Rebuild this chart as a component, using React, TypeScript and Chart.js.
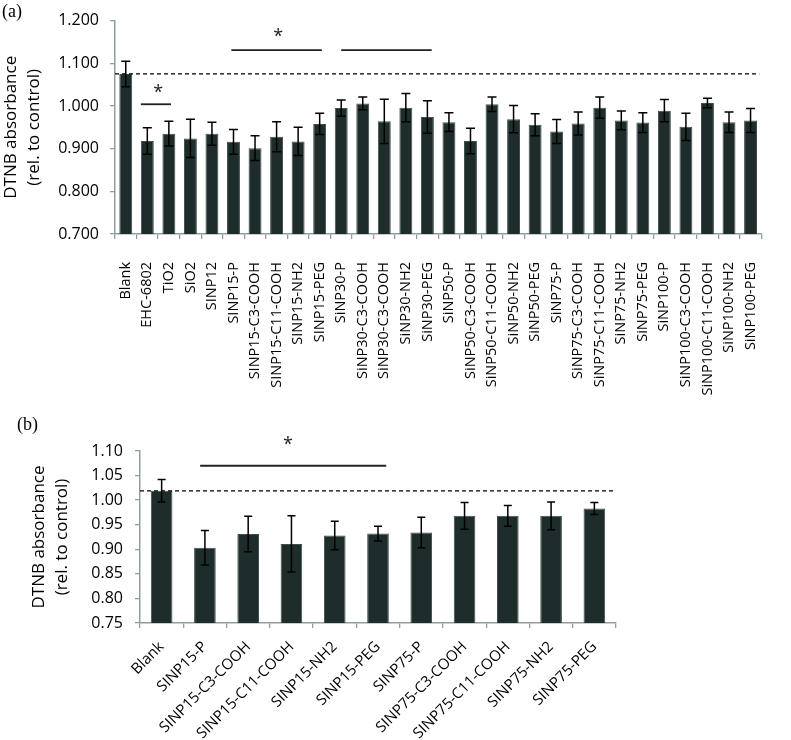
import React, { useEffect, useRef } from "react";
import { Chart, registerables } from "chart.js";

Chart.register(...registerables);

// ---------- Panel (a) data ----------
const labelsA = [
  "Blank", "EHC-6802", "TiO2", "SiO2", "SINP12",
  "SINP15-P", "SINP15-C3-COOH", "SINP15-C11-COOH", "SINP15-NH2", "SINP15-PEG",
  "SiNP30-P", "SiNP30-C3-COOH", "SiNP30-C3-COOH", "SiNP30-NH2", "SiNP30-PEG",
  "SiNP50-P", "SiNP50-C3-COOH", "SiNP50-C11-COOH", "SiNP50-NH2", "SiNP50-PEG",
  "SiNP75-P", "SiNP75-C3-COOH", "SiNP75-C11-COOH", "SiNP75-NH2", "SiNP75-PEG",
  "SiNP100-P", "SiNP100-C3-COOH", "SiNP100-C11-COOH", "SiNP100-NH2", "SiNP100-PEG",
];
const meansA = [
  1.075, 0.918, 0.935, 0.924, 0.935,
  0.916, 0.901, 0.928, 0.917, 0.958,
  0.995, 1.006, 0.964, 0.996, 0.974,
  0.962, 0.918, 1.004, 0.969, 0.956,
  0.940, 0.959, 0.996, 0.966, 0.961,
  0.989, 0.951, 1.007, 0.962, 0.966,
];
const errorsA = [
  0.030, 0.031, 0.029, 0.045, 0.027,
  0.029, 0.029, 0.035, 0.033, 0.025,
  0.019, 0.015, 0.052, 0.033, 0.038,
  0.022, 0.030, 0.017, 0.032, 0.026,
  0.028, 0.027, 0.025, 0.022, 0.023,
  0.026, 0.032, 0.011, 0.024, 0.028,
];
const yMinA = 0.7;
const yMaxA = 1.2;
const yStepA = 0.1;
const yDecimalsA = 3;
const controlA = 1.075;
const sigFromA = [0.7, 4.9, 10.0];
const sigToA = [2.1, 9.1, 14.2];
const sigLevelA = [1.004, 1.131, 1.131];
const starXA = [1.5, 7.08, -1];
const starLevelA = [1.038, 1.168, 0];

// ---------- Panel (b) data ----------
const labelsB = [
  "Blank", "SINP15-P", "SINP15-C3-COOH", "SINP15-C11-COOH", "SINP15-NH2", "SINP15-PEG",
  "SINP75-P", "SINP75-C3-COOH", "SINP75-C11-COOH", "SINP75-NH2", "SINP75-PEG",
];
const meansB = [1.019, 0.903, 0.931, 0.911, 0.928, 0.932, 0.934, 0.968, 0.968, 0.968, 0.983];
const errorsB = [0.023, 0.035, 0.036, 0.057, 0.029, 0.015, 0.031, 0.027, 0.021, 0.028, 0.012];
const yMinB = 0.75;
const yMaxB = 1.1;
const yStepB = 0.05;
const yDecimalsB = 2;
const controlB = 1.019;
const sigFromB = [0.89];
const sigToB = [5.19];
const sigLevelB = [1.07];
const starXB = [2.92];
const starLevelB = [1.118];

const FONT = "'Open Sans', 'DejaVu Sans', sans-serif";
const AXIS = "#8f9f9d";
const BAR = "#1e2d2b";
const BAR_EDGE = "#3d4e4c";

const annotPlugin = {
  id: "annot",
  afterDatasetsDraw(chart: any, _args: any, opts: any) {
    const { ctx, chartArea } = chart;
    const x = chart.scales.x;
    const y = chart.scales.y;
    const meta = chart.getDatasetMeta(0);
    ctx.save();
    // dashed control line
    const yc = y.getPixelForValue(opts.control);
    ctx.strokeStyle = "#000";
    ctx.lineWidth = 1.3;
    ctx.setLineDash([4, 3]);
    ctx.beginPath();
    ctx.moveTo(chartArea.left, yc);
    ctx.lineTo(chartArea.right - 2, yc);
    ctx.stroke();
    ctx.setLineDash([]);
    // error bars
    ctx.lineWidth = 1.5;
    ctx.strokeStyle = "#000";
    opts.means.forEach((m: number, i: number) => {
      const e = opts.errors[i];
      const px = meta.data[i].x;
      const yt = y.getPixelForValue(m + e);
      const yb = y.getPixelForValue(m - e);
      ctx.beginPath();
      ctx.moveTo(px, yt);
      ctx.lineTo(px, yb);
      ctx.moveTo(px - opts.cap, yt);
      ctx.lineTo(px + opts.cap, yt);
      ctx.moveTo(px - opts.cap, yb);
      ctx.lineTo(px + opts.cap, yb);
      ctx.stroke();
    });
    // significance lines
    ctx.strokeStyle = "#222";
    ctx.lineWidth = 1.8;
    opts.sigFrom.forEach((f: number, i: number) => {
      const yy = y.getPixelForValue(opts.sigLevel[i]);
      ctx.beginPath();
      ctx.moveTo(x.getPixelForValue(f), yy);
      ctx.lineTo(x.getPixelForValue(opts.sigTo[i]), yy);
      ctx.stroke();
    });
    ctx.fillStyle = "#222";
    ctx.font = `18px ${FONT}`;
    ctx.textAlign = "center";
    ctx.textBaseline = "middle";
    opts.starX.forEach((sx: number, i: number) => {
      if (sx < 0) return;
      ctx.fillText("*", x.getPixelForValue(sx), y.getPixelForValue(opts.starLevel[i]) + 3);
    });
    ctx.restore();
  },
};

function makeConfig(p: any) {
  return {
    type: "bar",
    data: {
      labels: p.labels,
      datasets: [
        {
          data: p.means,
          backgroundColor: BAR,
          borderColor: BAR_EDGE,
          borderWidth: 1,
          categoryPercentage: 1,
          barPercentage: p.barPct,
        },
      ],
    },
    options: {
      responsive: false,
      animation: false,
      layout: { padding: p.padding },
      plugins: {
        legend: { display: false },
        tooltip: { enabled: false },
        annot: {
          means: p.means,
          errors: p.errors,
          control: p.control,
          cap: p.cap,
          sigFrom: p.sigFrom,
          sigTo: p.sigTo,
          sigLevel: p.sigLevel,
          starX: p.starX,
          starLevel: p.starLevel,
        },
      },
      scales: {
        x: {
          grid: { drawOnChartArea: false, drawTicks: true, tickLength: 5, color: AXIS, lineWidth: 1.3, offset: true },
          border: { color: AXIS, width: 1.5 },
          ticks: {
            autoSkip: false,
            maxRotation: p.rotation,
            minRotation: p.rotation,
            padding: p.xPad,
            color: "#000",
            font: { family: FONT, size: p.xFont },
          },
          afterFit: (s: any) => {
            s.height = p.xHeight;
          },
        },
        y: {
          min: p.yMin,
          max: p.yMax,
          grid: { drawOnChartArea: false, drawTicks: true, tickLength: 5, color: AXIS, lineWidth: 1.3 },
          border: { color: AXIS, width: 1.5 },
          ticks: {
            stepSize: p.yStep,
            padding: p.yPad,
            color: "#000",
            font: { family: FONT, size: 16 },
            callback: (v: any) => Number(v).toFixed(p.yDec),
          },
          title: {
            display: true,
            text: ["DTNB absorbance", "(rel. to control)"],
            color: "#000",
            font: { family: FONT, size: 17, lineHeight: 1.35 },
            padding: { top: p.titlePad, bottom: 0 },
          },
          afterFit: (s: any) => {
            s.width = p.yWidth;
          },
        },
      },
    },
    plugins: [annotPlugin],
  };
}

export default function App() {
  const refA = useRef<HTMLCanvasElement>(null);
  const refB = useRef<HTMLCanvasElement>(null);

  useEffect(() => {
    const chartA = new Chart(
      refA.current as HTMLCanvasElement,
      makeConfig({
        labels: labelsA,
        means: meansA,
        errors: errorsA,
        barPct: 0.6,
        padding: { left: 0, right: 3, top: 18, bottom: 0 },
        control: controlA,
        cap: 4.5,
        sigFrom: sigFromA,
        sigTo: sigToA,
        sigLevel: sigLevelA,
        starX: starXA,
        starLevel: starLevelA,
        rotation: 90,
        xPad: 23,
        xFont: 14.5,
        xHeight: 176,
        yMin: yMinA,
        yMax: yMaxA,
        yStep: yStepA,
        yDec: yDecimalsA,
        yPad: 11,
        titlePad: 0,
        yWidth: 115,
      }) as any
    );
    const chartB = new Chart(
      refB.current as HTMLCanvasElement,
      makeConfig({
        labels: labelsB,
        means: meansB,
        errors: errorsB,
        barPct: 0.5,
        padding: { left: 0, right: 175, top: 31, bottom: 0 },
        control: controlB,
        cap: 4,
        sigFrom: sigFromB,
        sigTo: sigToB,
        sigLevel: sigLevelB,
        starX: starXB,
        starLevel: starLevelB,
        rotation: 45,
        xPad: 10,
        xFont: 15,
        xHeight: 117,
        yMin: yMinB,
        yMax: yMaxB,
        yStep: yStepB,
        yDec: yDecimalsB,
        yPad: 12,
        titlePad: 28,
        yWidth: 140,
      }) as any
    );
    return () => {
      chartA.destroy();
      chartB.destroy();
    };
  }, []);

  const panelLabel: React.CSSProperties = {
    position: "absolute",
    fontFamily: "'Liberation Serif', 'DejaVu Serif', serif",
    fontSize: 18,
    lineHeight: "20px",
    color: "#000",
  };

  return (
    <div style={{ position: "absolute", left: 0, top: 0, width: 791, height: 740, background: "#fff" }}>
      <canvas ref={refA} width={791} height={410} style={{ position: "absolute", left: 0, top: 0 }} />
      <canvas ref={refB} width={791} height={320} style={{ position: "absolute", left: 0, top: 420 }} />
      <div style={{ ...panelLabel, left: 2, top: 1 }}>(a)</div>
      <div style={{ ...panelLabel, left: 17, top: 414 }}>(b)</div>
    </div>
  );
}
